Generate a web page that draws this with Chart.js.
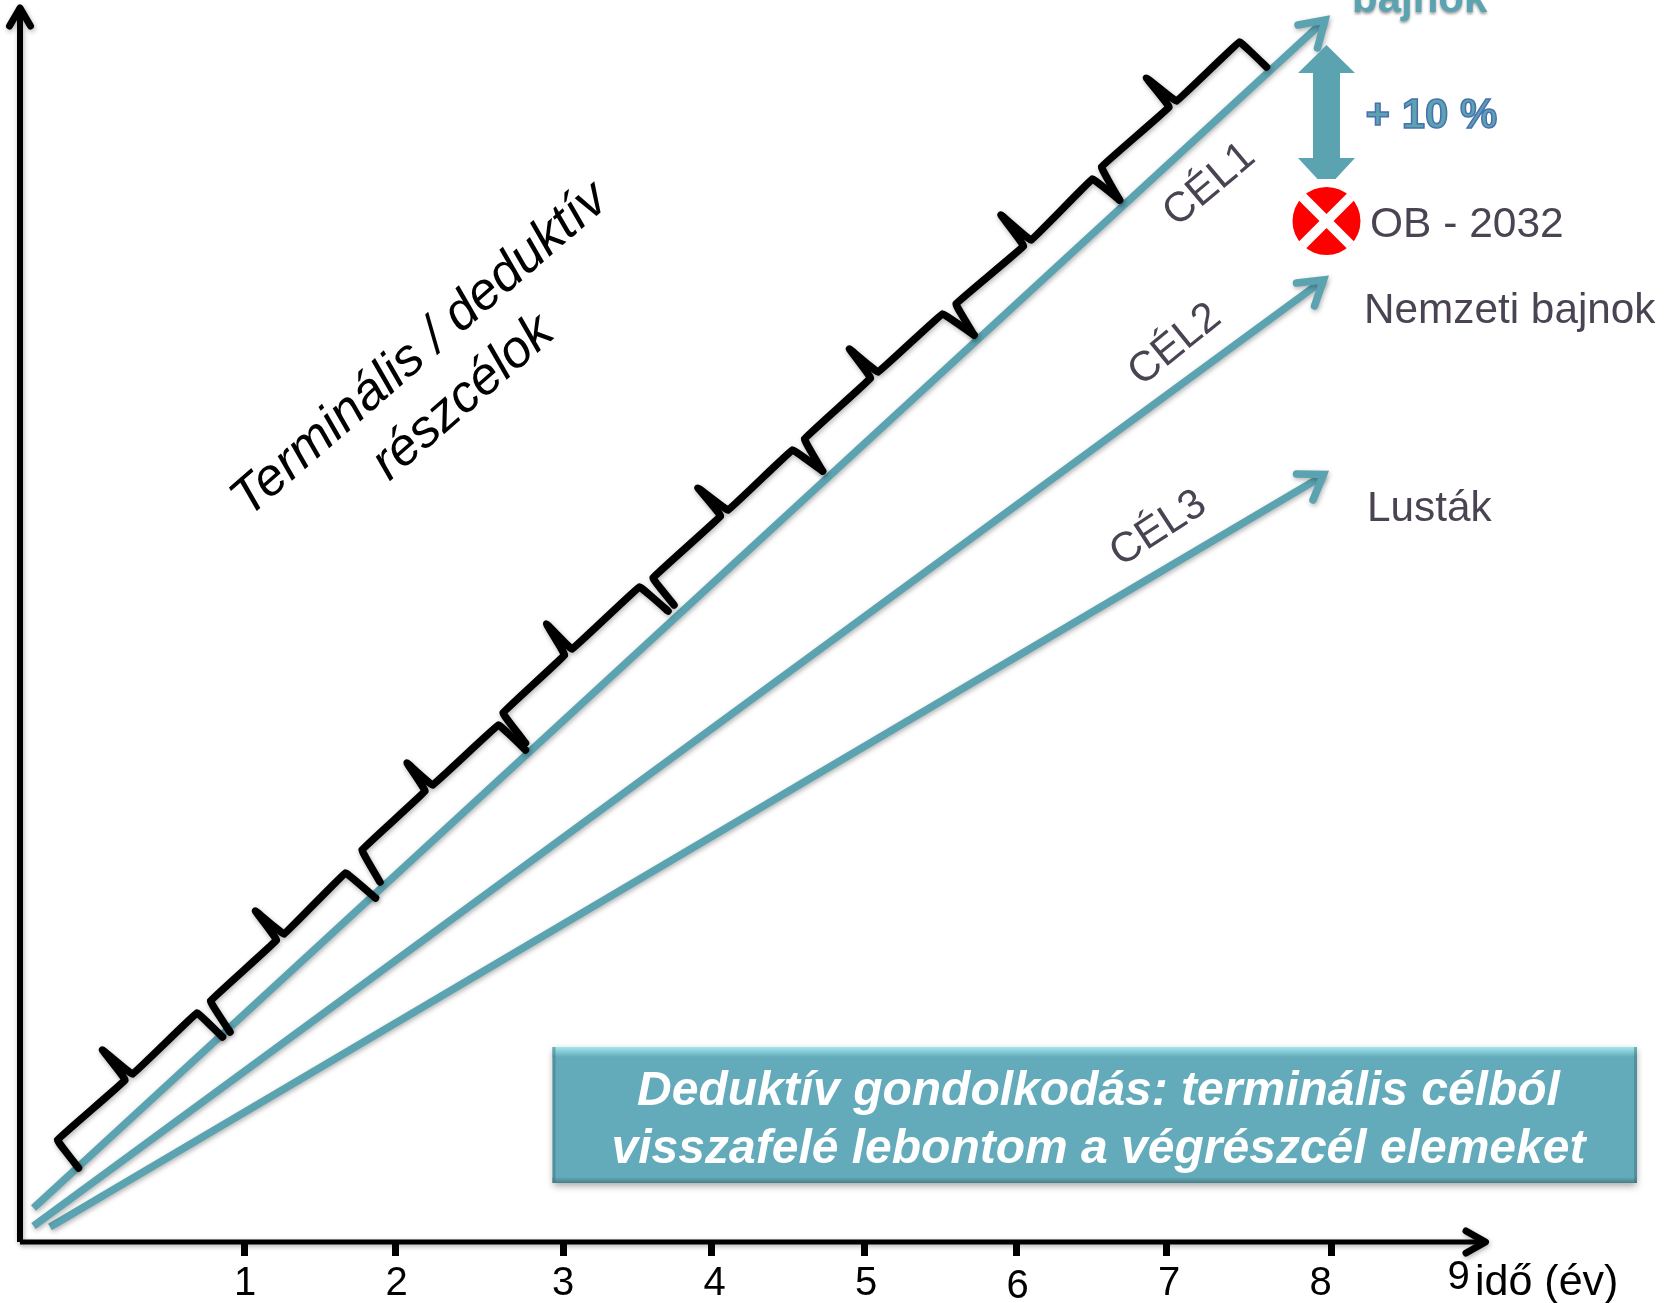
<!DOCTYPE html>
<html lang="hu">
<head>
<meta charset="utf-8">
<title>Deduktív gondolkodás</title>
<script src="https://cdn.jsdelivr.net/npm/chart.js@4/dist/chart.umd.min.js"></script>
<style>
  html, body { margin: 0; padding: 0; background: #fff; }
  canvas { display: block; }
</style>
</head>
<body>
<canvas id="grafikon" width="1670" height="1303"></canvas>
<script>
// x: years, y: performance level on an unlabelled scale
const evTickek = [1.01, 2.01, 3.13, 4.12, 5.14, 6.15, 7.15, 8.25];
const evFeliratok = ["1", "2", "3", "4", "5", "6", "7", "8", "9"];
const evFeliratX = [1.01, 2.02, 3.13, 4.14, 5.15, 6.16, 7.17, 8.18, 9.10];
const evFeliratY = [-0.53, -0.53, -0.53, -0.53, -0.53, -0.56, -0.53, -0.53, -0.47];

// goal lines: start, end
const cel1X = [-0.40, 8.21];
const cel1Y = [0.34, 12.22];
const cel2X = [-0.40, 8.20];
const cel2Y = [0.16, 9.62];
const cel3X = [-0.29, 8.20];
const cel3Y = [0.15, 7.665];

// arrow heads: barb, tip, barb
const fej1X = [8.03, 8.21, 8.16];
const fej1Y = [12.17, 12.22, 11.94];
const fej2X = [8.02, 8.20, 8.14];
const fej2Y = [9.59, 9.62, 9.36];
const fej3X = [8.02, 8.20, 8.13];
const fej3Y = [7.68, 7.675, 7.42];

// sub-goal braces, 7 points each: end, corner, notch, tip, notch, corner, end
const kapcsosX = [
  [-0.10, -0.24, 0.21, 0.06, 0.26, 0.69, 0.86],
  [0.91, 0.78, 1.22, 1.08, 1.27, 1.68, 1.88],
  [1.91, 1.79, 2.21, 2.09, 2.26, 2.70, 2.88],
  [2.88, 2.73, 3.14, 3.02, 3.19, 3.64, 3.83],
  [3.87, 3.73, 4.18, 4.03, 4.23, 4.66, 4.86],
  [4.86, 4.74, 5.18, 5.04, 5.23, 5.66, 5.87],
  [5.87, 5.75, 6.20, 6.05, 6.25, 6.66, 6.84],
  [6.84, 6.72, 7.17, 7.02, 7.22, 7.64, 7.82]
];
const kapcsosY = [
  [0.74, 1.02, 1.62, 1.92, 1.68, 2.29, 2.05],
  [2.10, 2.41, 3.02, 3.31, 3.08, 3.69, 3.44],
  [3.60, 3.92, 4.51, 4.79, 4.57, 5.17, 4.92],
  [4.99, 5.29, 5.87, 6.18, 5.93, 6.55, 6.31],
  [6.37, 6.64, 7.26, 7.54, 7.32, 7.92, 7.71],
  [7.71, 8.03, 8.64, 8.93, 8.70, 9.28, 9.07],
  [9.07, 9.38, 9.96, 10.27, 10.02, 10.63, 10.42],
  [10.42, 10.75, 11.35, 11.64, 11.41, 12.00, 11.75]
];

const obPont = { x: 8.22, y: 10.21 };

const TEAL = "#5ba3b0";
const SOTET = "#4a4452";
const ARIAL = '"Liberation Sans", Arial, sans-serif';

const feliratok = [
  { t: "bajnok", x: 8.39, y: 12.30, font: "bold 42px " + ARIAL, szin: TEAL, arnyek: true },
  { t: "+ 10 %", x: 8.48, y: 11.14, font: "bold 42px " + ARIAL, szin: TEAL, kontur: "#4a6fb0" },
  { t: "OB - 2032", x: 8.51, y: 10.05, font: "42.5px " + ARIAL, szin: SOTET },
  { t: "Nemzeti bajnok", x: 8.47, y: 9.19, font: "42.3px " + ARIAL, szin: SOTET },
  { t: "Lusták", x: 8.49, y: 7.21, font: "42.3px " + ARIAL, szin: SOTET },
  { t: "CÉL1", x: 7.44, y: 10.57, font: "42px " + ARIAL, szin: SOTET, szog: -40, kozep: true },
  { t: "CÉL2", x: 7.21, y: 8.97, font: "42px " + ARIAL, szin: SOTET, szog: -39, kozep: true },
  { t: "CÉL3", x: 7.10, y: 7.13, font: "42px " + ARIAL, szin: SOTET, szog: -33, kozep: true },
  { t: "Terminális / deduktív", x: 2.24, y: 8.81, font: "italic 52.5px " + ARIAL, szin: "#000", szog: -41, kozep: true, alap: true },
  { t: "részcélok", x: 2.53, y: 8.33, font: "italic 52.5px " + ARIAL, szin: "#000", szog: -41, kozep: true, alap: true },
  { t: "idő (év)", x: 9.21, y: -0.53, font: "43px " + ARIAL, szin: "#000" }
];

// teal caption box
const doboz = { x1: 3.06, x2: 10.29, y1: 1.95, y2: 0.59 };
const dobozSorok = [
  { t: "Deduktív gondolkodás: terminális célból", x: 6.70, y: 1.37 },
  { t: "visszafelé lebontom a végrészcél elemeket", x: 6.70, y: 0.79 }
];

// +10 % double arrow
const nyil = { x: 8.22, fej: 0.19, szar: 0.09, vegFel: 0.06, teto: 11.97, fejAlj: 11.69, fejTeto: 10.84, alj: 10.63 };

function pontok(xek, yok) {
  return xek.map((x, i) => ({ x: x, y: yok[i] }));
}

function vonal(adat, szin, vastag) {
  return {
    type: "line", data: adat, borderColor: szin, borderWidth: vastag,
    pointRadius: 0, borderCapStyle: "butt", borderJoinStyle: "miter",
    tension: 0, clip: false, arnyek: true
  };
}

function fejVonal(adat, szin, vastag, csatlakozas) {
  const d = vonal(adat, szin, vastag);
  d.borderJoinStyle = csatlakozas;
  d.borderCapStyle = "round";
  return d;
}

// Chart.js paints the first dataset last: cross above disc, braces above the goal arrows
const adatsorok = [
  {
    type: "scatter", data: [obPont], pointStyle: "crossRot", pointRadius: 34,
    pointBorderColor: "#fff", pointBorderWidth: 10, clip: false
  },
  {
    type: "scatter", data: [obPont], pointStyle: "circle", pointRadius: 34,
    pointBackgroundColor: "#ff0000", pointBorderWidth: 0, clip: false
  }
];
kapcsosX.forEach((xek, i) => {
  const d = fejVonal(pontok(xek, kapcsosY[i]), "#000", 7.5, "round");
  d.tension = 0.04;
  adatsorok.push(d);
});
adatsorok.push(
  vonal(pontok([-0.49, -0.49], [0, 12.33]), "#000", 6),
  fejVonal(pontok([-0.56, -0.49, -0.42], [12.16, 12.34, 12.16]), "#000", 7, "round"),
  vonal(pontok([-0.49, 9.25], [0, 0]), "#000", 5),
  fejVonal(pontok([9.15, 9.28, 9.15], [0.11, 0, -0.11]), "#000", 7, "round"),
  fejVonal(pontok(fej1X, fej1Y), TEAL, 7.5, "miter"),
  fejVonal(pontok(fej2X, fej2Y), TEAL, 7.5, "miter"),
  fejVonal(pontok(fej3X, fej3Y), TEAL, 7.5, "miter"),
  vonal(pontok(cel1X, cel1Y), TEAL, 7.5),
  vonal(pontok(cel2X, cel2Y), TEAL, 7.5),
  vonal(pontok(cel3X, cel3Y), TEAL, 7.5)
);

const arnyekPlugin = {
  id: "arnyek",
  beforeDatasetDraw(chart, args) {
    const ctx = chart.ctx;
    ctx.save();
    if (chart.data.datasets[args.index].arnyek) {
      ctx.shadowColor = "rgba(0,0,0,0.3)";
      ctx.shadowBlur = 5;
      ctx.shadowOffsetX = 1;
      ctx.shadowOffsetY = 2;
    }
  },
  afterDatasetDraw(chart) {
    chart.ctx.restore();
  }
};

const rajzPlugin = {
  id: "rajz",
  afterDatasetsDraw(chart) {
    const ctx = chart.ctx, sx = chart.scales.x, sy = chart.scales.y;
    const px = v => sx.getPixelForValue(v), py = v => sy.getPixelForValue(v);

    // double arrow
    ctx.save();
    ctx.fillStyle = TEAL;
    ctx.beginPath();
    [[0, nyil.teto], [nyil.fej, nyil.fejAlj], [nyil.szar, nyil.fejAlj], [nyil.szar, nyil.fejTeto],
     [nyil.fej, nyil.fejTeto], [nyil.vegFel, nyil.alj], [-nyil.vegFel, nyil.alj], [-nyil.fej, nyil.fejTeto],
     [-nyil.szar, nyil.fejTeto], [-nyil.szar, nyil.fejAlj], [-nyil.fej, nyil.fejAlj]].forEach((p, i) => {
      const X = px(nyil.x + p[0]), Y = py(p[1]);
      if (i === 0) ctx.moveTo(X, Y); else ctx.lineTo(X, Y);
    });
    ctx.closePath();
    ctx.fill();
    ctx.restore();

    // caption box with bevelled edges
    const bx = px(doboz.x1), by = py(doboz.y1), bw = px(doboz.x2) - bx, bh = py(doboz.y2) - by;
    ctx.save();
    ctx.shadowColor = "rgba(0,0,0,0.35)";
    ctx.shadowBlur = 7;
    ctx.shadowOffsetY = 3;
    ctx.fillStyle = "#63abba";
    ctx.fillRect(bx, by, bw, bh);
    ctx.restore();
    ctx.save();
    const fent = ctx.createLinearGradient(0, by, 0, by + 10);
    fent.addColorStop(0, "#a3e6f0");
    fent.addColorStop(1, "#63abba");
    ctx.fillStyle = fent;
    ctx.fillRect(bx, by, bw, 10);
    const lent = ctx.createLinearGradient(0, by + bh - 6, 0, by + bh);
    lent.addColorStop(0, "#63abba");
    lent.addColorStop(1, "#4a7f8a");
    ctx.fillStyle = lent;
    ctx.fillRect(bx, by + bh - 6, bw, 6);
    ctx.fillStyle = "rgba(60,110,120,0.45)";
    ctx.fillRect(bx + bw - 3, by, 3, bh);
    ctx.fillRect(bx, by, 3, bh);
    ctx.fillStyle = "#fff";
    ctx.font = "italic bold 48px " + ARIAL;
    ctx.textAlign = "center";
    ctx.textBaseline = "alphabetic";
    dobozSorok.forEach(s => ctx.fillText(s.t, px(s.x), py(s.y)));
    ctx.restore();

    // year labels sit by hand next to their tick marks
    ctx.save();
    ctx.fillStyle = "#000";
    ctx.font = "40px " + ARIAL;
    ctx.textAlign = "center";
    ctx.textBaseline = "alphabetic";
    evFeliratok.forEach((c, i) => ctx.fillText(c, px(evFeliratX[i]), py(evFeliratY[i])));
    ctx.restore();

    feliratok.forEach(f => {
      ctx.save();
      ctx.translate(px(f.x), py(f.y));
      if (f.szog) ctx.rotate(f.szog * Math.PI / 180);
      ctx.font = f.font;
      ctx.textAlign = f.kozep ? "center" : "left";
      ctx.textBaseline = f.kozep && !f.alap ? "middle" : "alphabetic";
      ctx.fillStyle = f.szin;
      if (f.arnyek) {
        ctx.shadowColor = "rgba(0,0,0,0.4)";
        ctx.shadowBlur = 3;
        ctx.shadowOffsetY = 2;
      }
      ctx.fillText(f.t, 0, 0);
      if (f.kontur) {
        ctx.strokeStyle = f.kontur;
        ctx.lineWidth = 1.5;
        ctx.strokeText(f.t, 0, 0);
      }
      ctx.restore();
    });
  }
};

new Chart(document.getElementById("grafikon").getContext("2d"), {
  type: "line",
  data: { datasets: adatsorok },
  plugins: [arnyekPlugin, rajzPlugin],
  options: {
    responsive: false,
    animation: false,
    parsing: false,
    layout: { autoPadding: false, padding: { left: 20, top: 0, right: 0, bottom: 0 } },
    plugins: { legend: { display: false }, title: { display: false }, tooltip: { enabled: false } },
    scales: {
      x: {
        type: "linear",
        min: -0.49,
        max: 10.51,
        afterBuildTicks: s => { s.ticks = evTickek.map(v => ({ value: v })); },
        afterFit: s => { s.height = 61; },
        ticks: { display: false },
        border: { display: false },
        grid: { drawOnChartArea: false, drawTicks: true, tickLength: 14, tickWidth: 7, tickColor: "#000" }
      },
      y: { type: "linear", min: 0, max: 12.42, display: false }
    }
  }
});
</script>
</body>
</html>
